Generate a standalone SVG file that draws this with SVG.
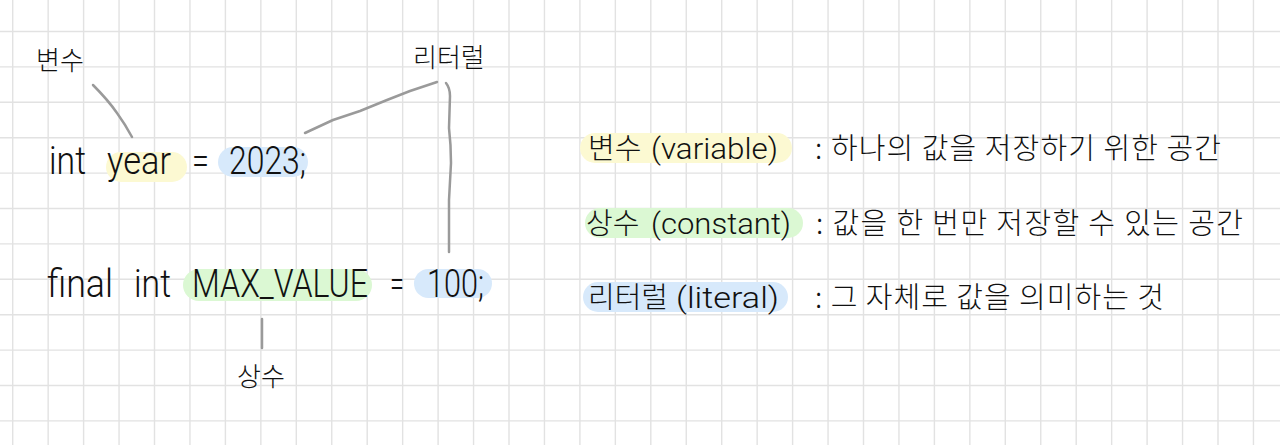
<svg xmlns="http://www.w3.org/2000/svg" width="1280" height="445" viewBox="0 0 1280 445">
<style>
.grid{stroke:#e2e2e2;stroke-width:1.4;fill:none}
.code{font-family:"Roboto","Noto Sans",sans-serif;font-weight:300;font-size:39px;fill:#111}
.lbl{font-family:"Noto Sans CJK KR","Noto Sans",sans-serif;font-weight:300;font-size:26px;fill:#111}
.txt{font-family:"Noto Sans CJK KR","Noto Sans",sans-serif;font-weight:300;font-size:29px;fill:#111}
.lat{font-family:"Roboto","Noto Sans",sans-serif;font-weight:300;font-size:30px;fill:#111}
.conn{stroke:#9a9a9a;stroke-width:2.5;fill:none;stroke-linecap:round;stroke-linejoin:round}
.hy{fill:#fcf9d2}.hg{fill:#dbf8d3}.hb{fill:#d7e9fb}
</style>
<rect width="1280" height="445" fill="#ffffff"/>
<path class="grid" d="M12.7 0V445M48.15 0V445M83.6 0V445M119.05 0V445M154.5 0V445M189.95 0V445M225.4 0V445M260.85 0V445M296.3 0V445M331.75 0V445M367.2 0V445M402.65 0V445M438.1 0V445M473.55 0V445M509 0V445M544.45 0V445M579.9 0V445M615.35 0V445M650.8 0V445M686.25 0V445M721.7 0V445M757.15 0V445M792.6 0V445M828.05 0V445M863.5 0V445M898.95 0V445M934.4 0V445M969.85 0V445M1005.3 0V445M1040.75 0V445M1076.2 0V445M1111.65 0V445M1147.1 0V445M1182.55 0V445M1218 0V445M1253.45 0V445M0 31.5H1280M0 66.9H1280M0 102.3H1280M0 137.7H1280M0 173.1H1280M0 208.5H1280M0 243.9H1280M0 279.3H1280M0 314.7H1280M0 350.1H1280M0 385.5H1280M0 420.9H1280"/>

<g id="code-line-1">
<rect class="hy" x="106" y="152" width="81" height="30" rx="15"/>
<rect class="hb" x="218" y="147" width="90" height="30" rx="15"/>
<text class="code" transform="translate(49 174) scale(0.8 1)" textLength="46.25" lengthAdjust="spacingAndGlyphs">int</text>
<text class="code" transform="translate(107 174) scale(0.8 1)" textLength="80" lengthAdjust="spacingAndGlyphs">year</text>
<text class="code" transform="translate(192 174) scale(0.8 1)" textLength="21.25" lengthAdjust="spacingAndGlyphs">=</text>
<text class="code" transform="translate(229 174) scale(0.8 1)" textLength="96.25" lengthAdjust="spacingAndGlyphs">2023;</text>
</g>

<g id="code-line-2">
<rect class="hg" x="183" y="269" width="189" height="32" rx="16"/>
<rect class="hb" x="414" y="269" width="78" height="29" rx="14.5"/>
<text class="code" transform="translate(47 297) scale(0.8 1)" textLength="82.5" lengthAdjust="spacingAndGlyphs">final</text>
<text class="code" transform="translate(134 297) scale(0.8 1)" textLength="46.25" lengthAdjust="spacingAndGlyphs">int</text>
<text class="code" transform="translate(192 297) scale(0.8 1)" textLength="220" lengthAdjust="spacingAndGlyphs">MAX_VALUE</text>
<text class="code" transform="translate(390 297) scale(0.8 1)" textLength="17.5" lengthAdjust="spacingAndGlyphs">=</text>
<text class="code" transform="translate(427 297) scale(0.8 1)" textLength="71.25" lengthAdjust="spacingAndGlyphs">100;</text>
</g>

<g id="label-variable"><text class="lbl" x="36" y="70">변수</text></g>
<g id="label-literal"><text class="lbl" x="413" y="67">리터럴</text></g>
<g id="label-constant"><text class="lbl" x="237" y="386">상수</text></g>

<g id="connectors">
<path class="conn" d="M93 85 Q108 100 117 113 Q125 124 132 137"/>
<path class="conn" d="M437 82 L410 91 L387 100 L360 111 L333 120 L305 133"/>
<path class="conn" d="M446 83 Q450 88 450 96 L449 128 Q451 145 451 163 L449 200 L449 252"/>
<path class="conn" d="M262 319 L262 348"/>
</g>

<g id="legend-variable">
<rect class="hy" x="580" y="133" width="212" height="30" rx="15"/>
<text class="txt" x="588" y="159">변수</text>
<text class="lat" x="651" y="159" textLength="127" lengthAdjust="spacingAndGlyphs">(variable)</text>
<text class="txt" x="815" y="159" textLength="406" lengthAdjust="spacing">: 하나의 값을 저장하기 위한 공간</text>
</g>

<g id="legend-constant">
<rect class="hg" x="585" y="208" width="218" height="30" rx="15"/>
<text class="txt" x="586" y="234">상수</text>
<text class="lat" x="651" y="234" textLength="140" lengthAdjust="spacingAndGlyphs">(constant)</text>
<text class="txt" x="816" y="234" textLength="427" lengthAdjust="spacing">: 값을 한 번만 저장할 수 있는 공간</text>
</g>

<g id="legend-literal">
<rect class="hb" x="583" y="282" width="205" height="30" rx="15"/>
<text class="txt" x="588" y="308">리터럴</text>
<text class="lat" x="676" y="308" textLength="103" lengthAdjust="spacingAndGlyphs">(literal)</text>
<text class="txt" x="815" y="308" textLength="349" lengthAdjust="spacing">: 그 자체로 값을 의미하는 것</text>
</g>
</svg>
